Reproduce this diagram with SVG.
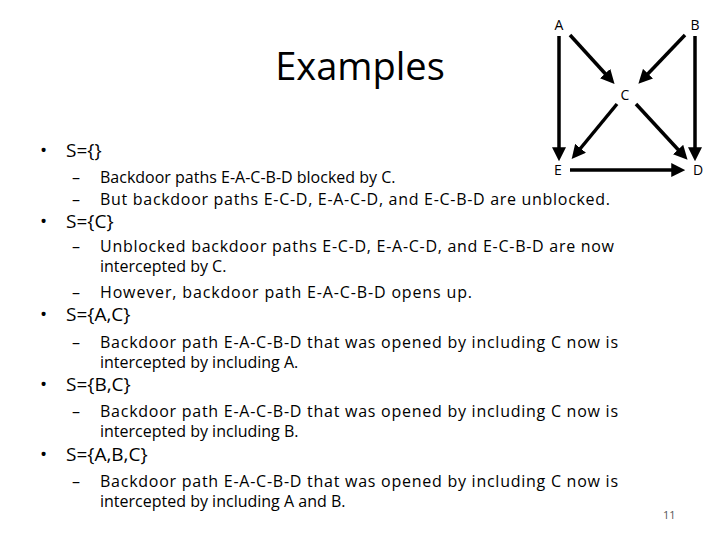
<svg xmlns="http://www.w3.org/2000/svg" width="720" height="540" viewBox="0 0 720 540">
<style>
text{font-family:"Open Sans","Liberation Sans",sans-serif;fill:#000}
.b{font-size:19px}.s{font-size:16px}.n{font-size:14px}
.e{stroke:#000;stroke-width:3.5;fill:none;marker-end:url(#ah)}
</style>
<defs><marker id="ah" markerWidth="4" markerHeight="4" refX="2.5" refY="2" orient="auto"><path d="M0,0L4,2L0,4z"/></marker></defs>
<rect width="720" height="540" fill="#fff"/>
<text x="360" y="80" font-size="38" text-anchor="middle">Examples</text>
<g id="text">
<text class="b" x="40" y="157">•</text><text class="b" x="66" y="157">S={}</text>
<text class="s" x="72" y="183">–</text><text class="s" x="100" y="183">Backdoor paths E-A-C-B-D blocked by C.</text>
<text class="s" x="72" y="205">–</text><text class="s" x="100" y="205" textLength="510">But backdoor paths E-C-D, E-A-C-D, and E-C-B-D are unblocked.</text>
<text class="b" x="40" y="228">•</text><text class="b" x="66" y="228">S={C}</text>
<text class="s" x="72" y="252">–</text><text class="s" x="100" y="252" textLength="514">Unblocked backdoor paths E-C-D, E-A-C-D, and E-C-B-D are now</text>
<text class="s" x="100" y="272">intercepted by C.</text>
<text class="s" x="72" y="298">–</text><text class="s" x="100" y="298" textLength="372">However, backdoor path E-A-C-B-D opens up.</text>
<text class="b" x="40" y="321">•</text><text class="b" x="66" y="321">S={A,C}</text>
<text class="s" x="72" y="348">–</text><text class="s" x="100" y="348" textLength="518">Backdoor path E-A-C-B-D that was opened by including C now is</text>
<text class="s" x="100" y="368">intercepted by including A.</text>
<text class="b" x="40" y="391">•</text><text class="b" x="66" y="391">S={B,C}</text>
<text class="s" x="72" y="417">–</text><text class="s" x="100" y="417" textLength="518">Backdoor path E-A-C-B-D that was opened by including C now is</text>
<text class="s" x="100" y="437">intercepted by including B.</text>
<text class="b" x="40" y="461">•</text><text class="b" x="66" y="461">S={A,B,C}</text>
<text class="s" x="72" y="487">–</text><text class="s" x="100" y="487" textLength="518">Backdoor path E-A-C-B-D that was opened by including C now is</text>
<text class="s" x="100" y="507">intercepted by including A and B.</text>
<text x="663" y="519" font-size="11" style="fill:#555">11</text>
</g>
<g id="A"><text class="n" x="559" y="30" text-anchor="middle">A</text></g>
<g id="B"><text class="n" x="695" y="30" text-anchor="middle">B</text></g>
<g id="C"><text class="n" x="625" y="100" text-anchor="middle">C</text></g>
<g id="E"><text class="n" x="558" y="175" text-anchor="middle">E</text></g>
<g id="D"><text class="n" x="698" y="175" text-anchor="middle">D</text></g>
<g id="edges">
<line class="e" x1="559" y1="36" x2="559" y2="156"/>
<line class="e" x1="570" y1="35" x2="611" y2="80"/>
<line class="e" x1="685" y1="35" x2="642" y2="80"/>
<line class="e" x1="695" y1="36" x2="695" y2="156"/>
<line class="e" x1="617" y1="104" x2="575" y2="155"/>
<line class="e" x1="636" y1="104" x2="684" y2="156"/>
<line class="e" x1="570" y1="170" x2="680" y2="170"/>
</g>
</svg>
